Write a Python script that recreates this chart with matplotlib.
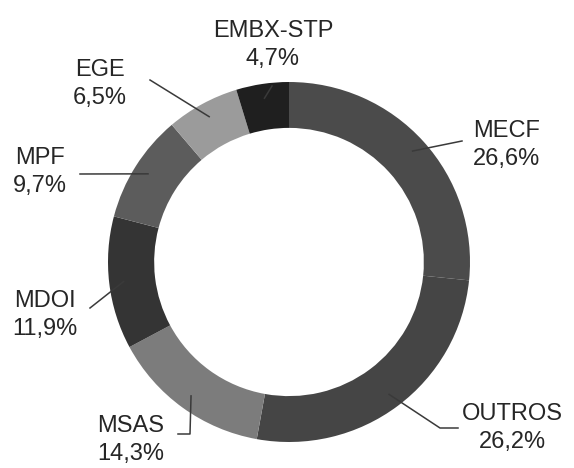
import numpy as np
import matplotlib
matplotlib.use("Agg")
import matplotlib.pyplot as plt

# share of each unit, clockwise from 12 o'clock
units = ["MECF", "OUTROS", "MSAS", "MDOI", "MPF", "EGE", "EMBX-STP"]
shares = [26.6, 26.2, 14.3, 11.9, 9.7, 6.5, 4.7]
labels = ["26,6%", "26,2%", "14,3%", "11,9%", "9,7%", "6,5%", "4,7%"]
greys = ["#4b4b4b", "#454545", "#7c7c7c", "#343434", "#5c5c5c", "#9b9b9b", "#1f1f1f"]

W, H = 574, 468
CX, CY, RX, RY = 289, 262, 181, 180      # ring centre / radii in pixels


def px(x, y):
    """pixel position -> data units of the unit-radius pie"""
    return (x - CX) / RX, (CY - y) / RY


# label centre, leader path up to the ring (pixels)
label_pos = {
    "MECF":     ((507, 145), [(462, 141)]),
    "OUTROS":   ((512, 428), [(458, 428), (440, 428)]),
    "MSAS":     ((131, 440), [(178, 434), (190, 434)]),
    "MDOI":     ((45, 315), [(90, 308)]),
    "MPF":      ((40, 172), [(80, 174)]),
    "EGE":      ((100, 84), [(150, 80)]),
    "EMBX-STP": ((273, 45), [(272, 86)]),
}

fig = plt.figure(figsize=(W / 100, H / 100), dpi=100)
ax = fig.add_axes([0, 0, 1, 1])
wedges, _ = ax.pie(shares, colors=greys, startangle=90, counterclock=False,
                   radius=1, wedgeprops=dict(width=0.255, linewidth=0))
ax.set_aspect("auto")
ax.set_xlim(-CX / RX, (W - CX) / RX)
ax.set_ylim(-(H - CY) / RY, CY / RY)
ax.axis("off")

for w, name, lab in zip(wedges, units, labels):
    mid = np.deg2rad((w.theta1 + w.theta2) / 2)
    tip = (0.92 * np.cos(mid), 0.92 * np.sin(mid))
    (tx, ty), path = label_pos[name]
    pts = [px(x, y) for x, y in path] + [tip]
    ax.plot([p[0] for p in pts], [p[1] for p in pts], color="#3a3a3a", lw=1.1)
    ax.text(*px(tx, ty), f"{name}\n{lab}", ha="center", va="center",
            fontsize=17, family="Liberation Sans", color="#262626",
            linespacing=1.35)

fig.savefig("out.png", dpi=100)
